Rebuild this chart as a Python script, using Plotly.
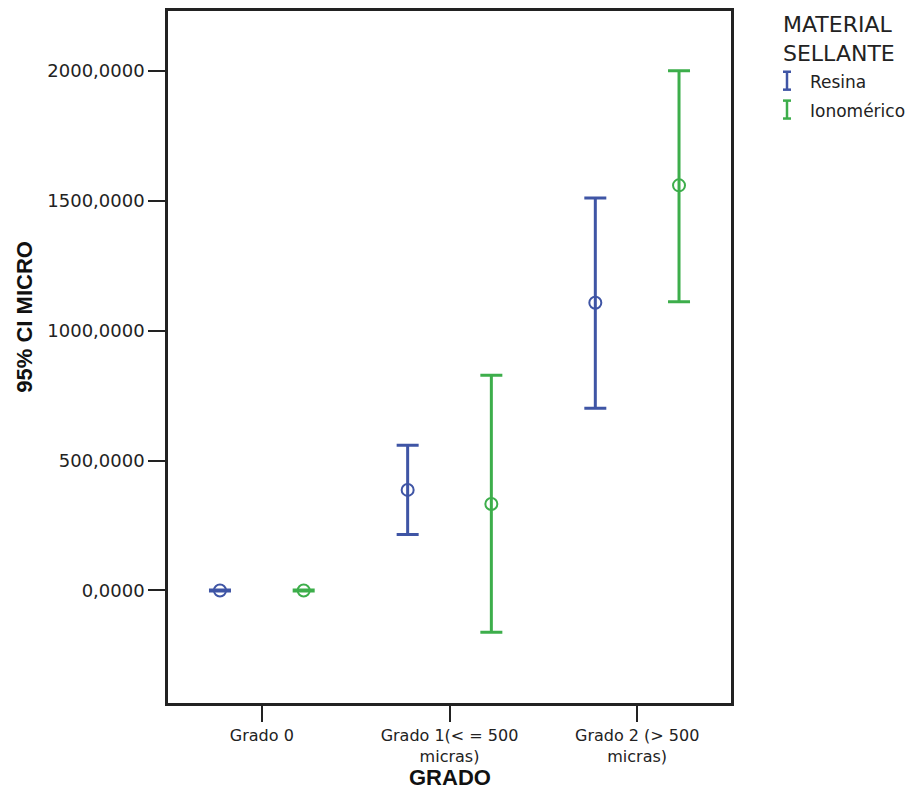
import plotly.graph_objects as go

# ---- data ----
groups = ["Grado 0", "Grado 1(< = 500<br>micras)", "Grado 2 (> 500<br>micras)"]
group_pos = [0, 1, 2]
resina_mean = [0, 387, 1107]
resina_low = [-2, 215, 701]
resina_high = [2, 559, 1510]
iono_mean = [0, 333, 1559]
iono_low = [-2, -161, 1111]
iono_high = [2, 828, 2000]
ytick_vals = [0, 500, 1000, 1500, 2000]
ytick_text = ["0,0000", "500,0000", "1000,0000", "1500,0000", "2000,0000"]

BLUE = "#3F55A5"
GREEN = "#3DAE4B"
OFFSET = 0.223

PAGE_OFF = 8  # browser body margin
W, H = 900, 784
L, R, T, B = 168 - PAGE_OFF, 731 - PAGE_OFF, 8 - PAGE_OFF, 703 - PAGE_OFF


def px(x):
    return (x - PAGE_OFF - L) / (R - L)


def py(y):
    return (B - (y - PAGE_OFF)) / (B - T)


fig = go.Figure()


def add_series(means, lows, highs, color, dx, name):
    xs = [p + dx for p in group_pos]
    fig.add_trace(go.Scatter(
        x=xs, y=means, mode="markers", name=name, showlegend=False,
        marker=dict(symbol="circle-open", size=12, color=color, line=dict(width=2, color=color)),
        error_y=dict(type="data", symmetric=False,
                     array=[h - m for h, m in zip(highs, means)],
                     arrayminus=[m - l for m, l in zip(means, lows)],
                     color=color, thickness=3, width=11),
    ))


add_series(resina_mean, resina_low, resina_high, BLUE, -OFFSET, "Resina")
add_series(iono_mean, iono_low, iono_high, GREEN, OFFSET, "Ionomérico")

font_main = "DejaVu Sans, Arial, sans-serif"
fig.update_layout(
    width=W, height=H,
    margin=dict(l=L, r=W - R, t=T, b=H - B),
    paper_bgcolor="white", plot_bgcolor="white",
    showlegend=False,
    xaxis=dict(range=[-0.5, 2.5], tickmode="array", tickvals=group_pos, ticktext=groups,
               showgrid=False, zeroline=False, showline=True, mirror=True,
               linecolor="#222222", linewidth=2.5, ticks="outside", ticklen=16,
               tickwidth=2, tickcolor="#222222",
               tickfont=dict(family=font_main, size=16, color="#222222")),
    yaxis=dict(range=[-433, 2230], tickmode="array", tickvals=ytick_vals, ticktext=ytick_text,
               showgrid=False, zeroline=False, showline=True, mirror=True,
               linecolor="#222222", linewidth=2.5, ticks="outside", ticklen=17,
               tickwidth=2, tickcolor="#222222",
               tickfont=dict(family=font_main, size=18, color="#222222")),
)

# axis titles
fig.add_annotation(text="<b>GRADO</b>", xref="paper", yref="paper", x=0.5, y=py(778),
                   showarrow=False, xanchor="center", yanchor="middle",
                   font=dict(family="Liberation Sans, Arial, sans-serif", size=22, color="#111111"))
fig.add_annotation(text="<b>95% CI MICRO</b>", xref="paper", yref="paper", x=px(25), y=py(315),
                   showarrow=False, xanchor="center", yanchor="middle", textangle=-90,
                   font=dict(family="Liberation Sans, Arial, sans-serif", size=22, color="#111111"))

# legend
fig.add_annotation(text="MATERIAL<br>SELLANTE", xref="paper", yref="paper", x=px(781), y=py(7),
                   showarrow=False, xanchor="left", yanchor="top", align="left",
                   font=dict(family=font_main, size=22, color="#222222"))
for name, color, yc in [("Resina", BLUE, 78), ("Ionomérico", GREEN, 107)]:
    xc = 787
    y0, y1 = yc - 9, yc + 9
    line = dict(color=color, width=2.5)
    fig.add_shape(type="line", xref="paper", yref="paper", x0=px(xc), x1=px(xc), y0=py(y0), y1=py(y1), line=line)
    fig.add_shape(type="line", xref="paper", yref="paper", x0=px(xc - 4), x1=px(xc + 4), y0=py(y0), y1=py(y0), line=line)
    fig.add_shape(type="line", xref="paper", yref="paper", x0=px(xc - 4), x1=px(xc + 4), y0=py(y1), y1=py(y1), line=line)
    fig.add_annotation(text=name, xref="paper", yref="paper", x=px(808), y=py(yc + 1),
                       showarrow=False, xanchor="left", yanchor="middle",
                       font=dict(family=font_main, size=17, color="#222222"))

fig.write_html("out.html")
